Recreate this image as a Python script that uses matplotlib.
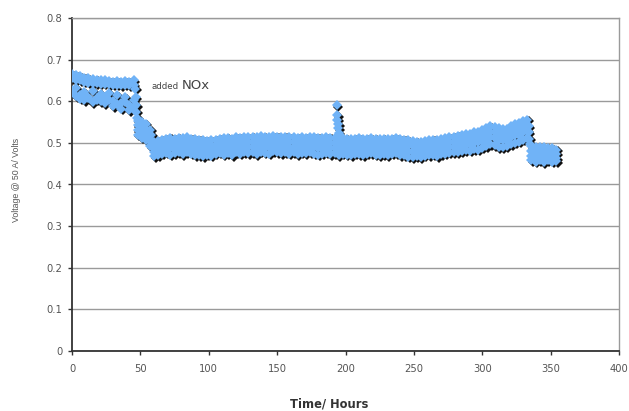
import matplotlib
matplotlib.use("Agg")
import matplotlib.pyplot as plt
import matplotlib.transforms as mtransforms
import numpy as np

# readings every 3 hours, four readings per time (top of band -> bottom outliers)
hours = np.arange(0, 355, 3)

v_top = [
    0.665, 0.662, 0.660, 0.657, 0.655, 0.653, 0.652, 0.650, 0.650, 0.648, 0.647, 0.648, 0.646, 0.648, 0.647, 0.650,
    0.553, 0.550, 0.546, 0.532, 0.502,
    0.505, 0.508, 0.510, 0.512, 0.510, 0.512, 0.511, 0.513, 0.510, 0.509,
    0.508, 0.506, 0.505, 0.506, 0.508, 0.510, 0.511, 0.512, 0.510, 0.513,
    0.512, 0.514, 0.513, 0.515, 0.514, 0.516, 0.515, 0.514, 0.516, 0.515,
    0.514, 0.515, 0.513, 0.514, 0.512, 0.513, 0.512, 0.514, 0.513, 0.512,
    0.511, 0.513, 0.512, 0.512, 0.510, 0.511, 0.510, 0.509, 0.510, 0.511,
    0.509, 0.510, 0.511, 0.510, 0.509, 0.510, 0.509, 0.510, 0.511, 0.509,
    0.508, 0.506, 0.504, 0.503, 0.502, 0.504, 0.506, 0.508, 0.507, 0.509,
    0.511, 0.513, 0.515, 0.517, 0.519, 0.521, 0.522, 0.525, 0.527, 0.530,
    0.535, 0.540, 0.538, 0.535, 0.533, 0.534, 0.540, 0.545, 0.547, 0.552,
    0.556,
    0.492, 0.490, 0.489, 0.490, 0.488, 0.487, 0.484,
]

v_upper = [
    0.655, 0.652, 0.650, 0.647, 0.645, 0.644, 0.643, 0.642, 0.642, 0.641, 0.640, 0.640, 0.639, 0.640, 0.638, 0.640,
    0.542, 0.538, 0.532, 0.518, 0.488,
    0.493, 0.496, 0.498, 0.500, 0.498, 0.500, 0.499, 0.501, 0.498, 0.497,
    0.496, 0.494, 0.493, 0.494, 0.496, 0.498, 0.499, 0.500, 0.498, 0.501,
    0.500, 0.502, 0.501, 0.503, 0.502, 0.504, 0.503, 0.502, 0.504, 0.503,
    0.502, 0.503, 0.501, 0.502, 0.500, 0.501, 0.500, 0.502, 0.501, 0.500,
    0.499, 0.501, 0.500, 0.500, 0.498, 0.499, 0.498, 0.497, 0.498, 0.499,
    0.497, 0.498, 0.499, 0.498, 0.497, 0.498, 0.497, 0.498, 0.499, 0.497,
    0.496, 0.494, 0.492, 0.491, 0.490, 0.492, 0.494, 0.496, 0.495, 0.497,
    0.499, 0.501, 0.503, 0.505, 0.507, 0.509, 0.510, 0.513, 0.515, 0.518,
    0.522, 0.527, 0.525, 0.522, 0.520, 0.521, 0.527, 0.532, 0.534, 0.539,
    0.543,
    0.481, 0.479, 0.478, 0.479, 0.477, 0.476, 0.474,
]

v_lower = [
    0.628, 0.632, 0.615, 0.622, 0.608, 0.625, 0.604, 0.618, 0.611, 0.620, 0.600, 0.615, 0.596, 0.610, 0.590, 0.602,
    0.530, 0.525, 0.520, 0.505, 0.478,
    0.482, 0.486, 0.488, 0.487, 0.485, 0.489, 0.486, 0.490, 0.486, 0.485,
    0.484, 0.481, 0.480, 0.483, 0.485, 0.487, 0.488, 0.487, 0.485, 0.489,
    0.488, 0.490, 0.489, 0.491, 0.489, 0.492, 0.491, 0.489, 0.492, 0.491,
    0.490, 0.491, 0.488, 0.490, 0.487, 0.489, 0.488, 0.490, 0.489, 0.487,
    0.487, 0.489, 0.488, 0.487, 0.486, 0.487, 0.485, 0.484, 0.486, 0.487,
    0.485, 0.486, 0.487, 0.485, 0.484, 0.486, 0.485, 0.486, 0.487, 0.485,
    0.483, 0.481, 0.479, 0.478, 0.477, 0.480, 0.482, 0.484, 0.483, 0.485,
    0.487, 0.489, 0.491, 0.492, 0.494, 0.496, 0.497, 0.500, 0.501, 0.504,
    0.508, 0.513, 0.511, 0.508, 0.506, 0.507, 0.513, 0.518, 0.520, 0.525,
    0.529,
    0.469, 0.467, 0.468, 0.466, 0.467, 0.465, 0.463,
]

v_bottom = [
    0.622, 0.612, 0.606, 0.603, 0.610, 0.598, 0.607, 0.600, 0.596, 0.604, 0.588, 0.594, 0.582, 0.598, 0.578, 0.586,
    0.520, 0.512, 0.508, 0.492, 0.468,
    0.470, 0.474, 0.476, 0.472, 0.475, 0.478, 0.473, 0.477, 0.474, 0.471,
    0.470, 0.468, 0.472, 0.469, 0.474, 0.476, 0.472, 0.475, 0.471, 0.477,
    0.474, 0.478, 0.475, 0.477, 0.473, 0.479, 0.476, 0.474, 0.480, 0.477,
    0.475, 0.478, 0.474, 0.477, 0.473, 0.476, 0.475, 0.478, 0.474, 0.472,
    0.474, 0.476, 0.473, 0.475, 0.471, 0.474, 0.472, 0.470, 0.474, 0.473,
    0.471, 0.474, 0.475, 0.472, 0.470, 0.473, 0.471, 0.474, 0.475, 0.471,
    0.470, 0.467, 0.466, 0.468, 0.465, 0.469, 0.470, 0.472, 0.468, 0.473,
    0.474, 0.476, 0.478, 0.477, 0.480, 0.482, 0.481, 0.485, 0.484, 0.488,
    0.492, 0.497, 0.494, 0.490, 0.489, 0.492, 0.497, 0.500, 0.503, 0.508,
    0.512,
    0.458, 0.455, 0.459, 0.454, 0.458, 0.455, 0.456,
]

# points on the step changes and the spike near 194 h
step_hours = [46, 46.5, 47, 47, 47.5, 58, 58.5, 59, 334, 334, 334.5, 335]
step_volts = [0.630, 0.610, 0.590, 0.575, 0.560, 0.520, 0.505, 0.490, 0.540, 0.525, 0.510, 0.498]
spike_hours = [193.5, 194, 194, 194.5, 194.5, 195]
spike_volts = [0.591, 0.567, 0.556, 0.545, 0.535, 0.524]

blue = "#70b3f7"
grid_col = "#9a9a9a"
text_col = "#555555"

fig = plt.figure(figsize=(6.29, 4.11), dpi=100)
ax = fig.add_axes([72 / 629, 60 / 411, 547 / 629, 333 / 411])

all_t = np.concatenate([hours, hours, hours, hours, step_hours, spike_hours])
all_v = np.concatenate([v_top, v_upper, v_lower, v_bottom, step_volts, spike_volts])

# dark drop shadow first, then the light blue markers on top
shadow = mtransforms.offset_copy(ax.transData, fig=fig, x=1.6, y=-1.6, units="dots")
ax.plot(all_t, all_v, "D", ms=5.3, mew=0, color="#111111", transform=shadow, zorder=3)
ax.plot(all_t, all_v, "D", ms=5.3, mew=0, color=blue, zorder=4)

ax.set_xlim(0, 400)
ax.set_ylim(0, 0.8)
ax.set_xticks(np.arange(0, 401, 50))
ax.set_yticks(np.arange(0, 0.81, 0.1))
ax.set_yticklabels(["0", "0.1", "0.2", "0.3", "0.4", "0.5", "0.6", "0.7", "0.8"])

ax.yaxis.grid(True, color=grid_col, lw=1.0)
ax.set_axisbelow(True)
for side in ("top", "right"):
    ax.spines[side].set_color(grid_col)
    ax.spines[side].set_linewidth(1.0)
for side in ("left", "bottom"):
    ax.spines[side].set_color("#333333")
    ax.spines[side].set_linewidth(1.3)

ax.tick_params(direction="out", length=3, width=1, color="#333333",
               labelsize=7.2, labelcolor=text_col)
ax.tick_params(axis="x", pad=6)
ax.tick_params(axis="y", pad=4)

ax.set_ylabel("Voltage @ 50 A/ Volts", fontsize=6.3, color=text_col,
              family="Liberation Sans")
ax.yaxis.set_label_coords(-55 / 547, 171 / 333)
ax.set_xlabel("Time/ Hours", fontsize=8.3, color="#333333", weight="bold")
ax.xaxis.set_label_coords(257 / 547, -53 / 333)
ax.xaxis.label.set_va("center")
ax.yaxis.label.set_va("center")

ax.text(58.5, 0.63, "added", fontsize=6.2, color="#444444", va="baseline")
ax.text(80.4, 0.63, "NOx", fontsize=9.5, color="#444444", va="baseline")

fig.savefig("out.png", dpi=100)
